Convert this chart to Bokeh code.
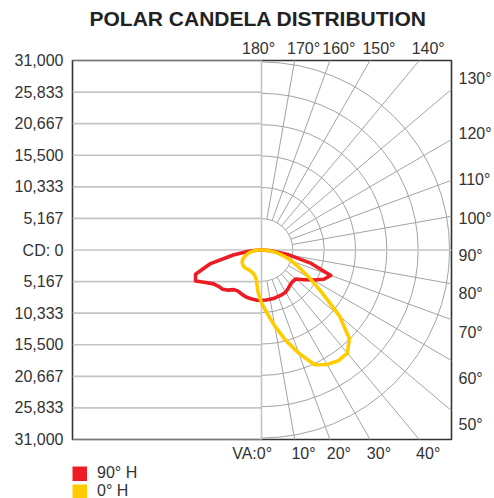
import math
from bokeh.plotting import figure
from bokeh.layouts import column
from bokeh.models import Range1d, FixedTicker, Legend, LegendItem, LinearAxis, Title
from bokeh.embed import file_html
from bokeh.resources import INLINE

# ---------------- data ----------------
TITLE = "POLAR CANDELA DISTRIBUTION"
CD_MAX = 31000
CD_TICKS = [5167, 10333, 15500, 20667, 25833, 31000]
CD_TICK_LABELS = ["5,167", "10,333", "15,500", "20,667", "25,833", "31,000"]
ZERO_LABEL = "CD: 0"

# vertical angles (deg, 0 = nadir)
VA = [0, 5, 10, 15, 20, 25, 30, 35, 40, 45, 50, 55, 60, 65, 70, 75, 80, 85, 90, 180]
# candela, 90° H plane (right side) and its opposite 270° H (left side)
H90_RIGHT = [8270, 8220, 8190, 8160, 8080, 8040, 7960, 7670, 7390, 7280, 7390, 8480,
             9790, 11340, 12160, 8480, 4570, 1630, 330, 0]
H90_LEFT = [8270, 8240, 8170, 8130, 8060, 7900, 7770, 7910, 8570, 9060, 9250, 9660,
            10610, 11990, 11580, 8810, 4730, 1960, 330, 0]
# candela, 0° H plane (right side) and its opposite 180° H (left side)
H0_RIGHT = [8650, 10360, 12640, 15260, 17950, 20720, 21620, 22110, 22030, 20480, 16810,
            12160, 9140, 6930, 5300, 3830, 2610, 1310, 490, 0]
H0_LEFT = [8650, 6850, 4900, 4320, 4050, 3920, 3870, 3880, 3950, 4010, 3960, 3850,
           3700, 3340, 2860, 2370, 1790, 1060, 490, 0]

SERIES = ["90° H", "0° H"]
COLORS = ["#ed1c24", "#ffcc00"]

RAY_ANGLES = list(range(0, 181, 10))
TOP_ANGLES = [180, 170, 160, 150, 140]
RIGHT_ANGLES = [130, 120, 110, 100, 90, 80, 70, 60, 50]
BOTTOM_ANGLES = [0, 10, 20, 30, 40]
BOTTOM_PREFIX = "VA:"

# ---------------- layout ----------------
HALF_H = 190            # px from centre to top/bottom of frame
S = CD_MAX / HALF_H     # candela per pixel
FONT = "Liberation Sans"
TXT = "#333333"

p = figure(width=494, height=464,
           x_range=Range1d(-191 * S, 192 * S), y_range=Range1d(-HALF_H * S, HALF_H * S),
           x_axis_type=None, output_backend="svg", toolbar_location=None,
           min_border_left=72, min_border_right=39, min_border_top=60, min_border_bottom=24)
p.grid.visible = False
p.outline_line_color = "#333333"
p.outline_line_width = 1.6
p.background_fill_color = "white"
p.border_fill_color = "white"


def style_axis(ax, standoff):
    ax.axis_line_color = None
    ax.major_tick_line_color = None
    ax.minor_tick_line_color = None
    ax.major_tick_out = 0
    ax.major_tick_in = 0
    ax.major_label_standoff = standoff
    ax.major_label_text_font = FONT
    ax.major_label_text_font_size = "16px"
    ax.major_label_text_color = TXT


all_ticks = [-t for t in reversed(CD_TICKS)] + [0] + CD_TICKS
overrides = {0: ZERO_LABEL}
for t, lab in zip(CD_TICKS, CD_TICK_LABELS):
    overrides[t] = lab
    overrides[-t] = lab
ax = p.yaxis[0]
ax.ticker = FixedTicker(ticks=all_ticks)
ax.major_label_overrides = overrides
style_axis(ax, 9)

# top angle labels
top_ticks, top_over = [], {}
for a in TOP_ANGLES:
    off = -3 if a == 180 else 9
    x = round(CD_MAX * math.tan(math.radians(180 - a)) + off * S)
    top_ticks.append(x)
    top_over[x] = f"{a}°"
top_axis = LinearAxis(ticker=FixedTicker(ticks=top_ticks), major_label_overrides=top_over)
style_axis(top_axis, 4)
p.add_layout(top_axis, "above")

# bottom angle labels
bot_ticks, bot_over = [], {}
for a in BOTTOM_ANGLES:
    if a == 0:
        x = round(-9.5 * S)
        txt = f"{BOTTOM_PREFIX}{a}°"
    else:
        x = round(CD_MAX * math.tan(math.radians(a)) + 9 * S)
        txt = f"{a}°"
    bot_ticks.append(x)
    bot_over[x] = txt
bot_axis = LinearAxis(ticker=FixedTicker(ticks=bot_ticks), major_label_overrides=bot_over)
style_axis(bot_axis, 5)
p.add_layout(bot_axis, "below")

# right angle labels: where each ray would cross a line just right of the frame,
# kept clear of the frame corners
r_ticks, r_over = [], {}
y_hi = (HALF_H - 18) * S
y_lo = -(HALF_H - 15) * S
for a in RIGHT_ANGLES:
    t = math.radians(a)
    y = -math.cos(t) / math.sin(t) * 212 * S - 6 * S
    y = round(min(max(y, y_lo), y_hi))
    r_ticks.append(y)
    r_over[y] = f"{a}°"
r_axis = LinearAxis(ticker=FixedTicker(ticks=r_ticks), major_label_overrides=r_over)
style_axis(r_axis, 7)
p.add_layout(r_axis, "right")

GRID_LIGHT = "#c4c4c4"
GRID_DARK = "#a3a3a3"

# left half horizontal grid lines
p.segment(x0=[p.x_range.start] * len(all_ticks), y0=all_ticks,
          x1=[0] * len(all_ticks), y1=all_ticks, line_color=GRID_LIGHT, line_width=1.6)

# right half circles
p.arc(x=[0] * len(CD_TICKS), y=[0] * len(CD_TICKS), radius=CD_TICKS,
      start_angle=-math.pi / 2, end_angle=math.pi / 2, direction="anticlock",
      line_color=GRID_DARK, line_width=1)

# rays
rx0, ry0, rx1, ry1, rc, rw = [], [], [], [], [], []
for a in RAY_ANGLES:
    t = math.radians(a)
    main = a in (0, 90, 180)
    r0 = 0 if main else CD_TICKS[0]
    r1 = 3 * CD_MAX
    rx0.append(r0 * math.sin(t)); ry0.append(-r0 * math.cos(t))
    rx1.append(r1 * math.sin(t)); ry1.append(-r1 * math.cos(t))
    rc.append(GRID_LIGHT if main else GRID_DARK)
    rw.append(1.6 if main else 1)
p.segment(x0=rx0, y0=ry0, x1=rx1, y1=ry1, line_color=rc, line_width=rw)


def curve(left, right):
    xs, ys = [], []
    for a, c in zip(reversed(VA), reversed(left)):
        t = math.radians(a)
        xs.append(-c * math.sin(t)); ys.append(-c * math.cos(t))
    for a, c in zip(VA, right):
        t = math.radians(a)
        xs.append(c * math.sin(t)); ys.append(-c * math.cos(t))
    return xs, ys


for (left, right), col in zip([(H90_LEFT, H90_RIGHT), (H0_LEFT, H0_RIGHT)], COLORS):
    xs, ys = curve(left, right)
    p.line(xs, ys, line_color=col, line_width=3.6, line_join="round")

# title
p.add_layout(Title(text=TITLE, align="left", offset=17, standoff=10, vertical_align="top",
                   text_font=FONT, text_font_size="21px", text_font_style="bold",
                   text_color="#222222"), "above")

# legend in its own strip below the chart
lg = figure(width=494, height=34, x_range=Range1d(0, 1), y_range=Range1d(0, 1),
            x_axis_type=None, y_axis_type=None, output_backend="svg", toolbar_location=None,
            min_border_left=72, min_border_right=0, min_border_top=0, min_border_bottom=0)
lg.grid.visible = False
lg.outline_line_color = None
lg.background_fill_color = "white"
lg.border_fill_color = "white"
items = []
for name, col in zip(SERIES, COLORS):
    # placeholder renderer (outside the visible range) used only for the legend swatch
    r = lg.line(x=[5, 6], y=[5, 5], line_color=col, line_width=15)
    items.append(LegendItem(label=name, renderers=[r]))
legend = Legend(items=items, location="top_left", padding=0, margin=0, spacing=0,
                glyph_width=15, glyph_height=15, label_height=16, label_standoff=10,
                label_text_font=FONT, label_text_font_size="16px", label_text_color=TXT,
                border_line_color=None, background_fill_alpha=0)
lg.add_layout(legend, "center")

open("out.html", "w").write(file_html(column(p, lg, spacing=0), INLINE))
